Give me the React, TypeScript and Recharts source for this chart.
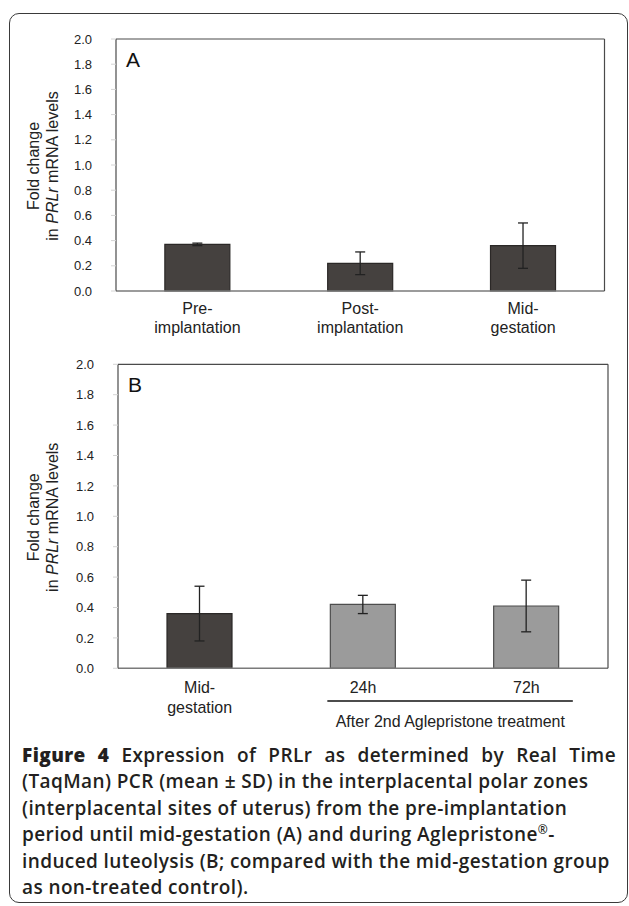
import React from 'react';
import { BarChart, Bar, XAxis, YAxis, ErrorBar, Cell, Label } from 'recharts';

// panel A: pregnancy stages
const categoriesA = ['Pre-\nimplantation', 'Post-\nimplantation', 'Mid-\ngestation'];
const meansA = [0.37, 0.22, 0.36];
const sdA = [0.01, 0.09, 0.18];

// panel B: mid-gestation control vs. after Aglepristone
const categoriesB = ['Mid-\ngestation', '24h', '72h'];
const meansB = [0.36, 0.42, 0.41];
const sdB = [0.18, 0.06, 0.17];
const treatedB = [false, true, true];

const yTicks = [0, 0.2, 0.4, 0.6, 0.8, 1.0, 1.2, 1.4, 1.6, 1.8, 2.0];
const treatmentLabel = 'After 2nd Aglepristone treatment';

const captionLines = [
    '(TaqMan) PCR (mean \u00b1 SD) in the interplacental polar zones',
    '(interplacental sites of uterus) from the pre-implantation',
    'period until mid-gestation (A) and during Aglepristone',
    'induced luteolysis (B; compared with the mid-gestation group',
    'as non-treated control).',
];

const FONT = '"Liberation Sans", Arial, sans-serif';
const DARK = '#45413f';
const LIGHT = '#9b9b9b';

const dataA = categoriesA.map((name, i) => ({ name, mean: meansA[i], sd: sdA[i] }));
const dataB = categoriesB.map((name, i) => ({ name, mean: meansB[i], sd: sdB[i], treated: treatedB[i] }));

const YTitle = (props: any) => {
    const { viewBox } = props;
    const cy = viewBox.y + viewBox.height / 2 + 1;
    const common = { textAnchor: 'middle' as const, dominantBaseline: 'central' as const, fontSize: 16, fontFamily: FONT, fill: '#222' };
    return (
        <g>
            <text transform={`translate(33, ${cy}) rotate(-90)`} {...common}>
                Fold change
            </text>
            <text transform={`translate(52, ${cy}) rotate(-90)`} {...common}>
                in <tspan fontStyle="italic">PRLr</tspan> mRNA levels
            </text>
        </g>
    );
};

const PanelLetter = (props: any) => {
    const { viewBox, letter } = props;
    return (
        <text x={viewBox.x + 10} y={viewBox.y + viewBox.height + 27.5} fontSize={21} fontFamily={FONT} fill="#111">
            {letter}
        </text>
    );
};

const CategoryTick = (props: any) => {
    const { x, y, payload, index, first, gap, bracket } = props;
    const lines = String(payload.value).split('\n');
    return (
        <g>
            {lines.map((line, i) => (
                <text key={i} x={x} y={y + first + i * gap} textAnchor="middle" fontSize={16} fontFamily={FONT} fill="#222">
                    {line}
                </text>
            ))}
            {bracket && index === categoriesB.length - 1 && (
                <g>
                    <line x1={x - 199} y1={y + 32.7} x2={x + 46.5} y2={y + 32.7} stroke="#111" strokeWidth={1.3} />
                    <text x={x - 76} y={y + 59} textAnchor="middle" fontSize={16} fontFamily={FONT} fill="#222">
                        {treatmentLabel}
                    </text>
                </g>
            )}
        </g>
    );
};

interface PanelProps {
    data: Array<any>;
    letter: string;
    width: number;
    height: number;
    margin: { top: number; right: number; left: number; bottom: number };
    yWidth: number;
    xHeight: number;
    first: number;
    gap: number;
    bracket?: boolean;
}

const Panel: React.FC<PanelProps> = ({ data, letter, width, height, margin, yWidth, xHeight, first, gap, bracket }) => (
    <BarChart width={width} height={height} data={data} margin={margin} barCategoryGap="30%">
        <XAxis
            dataKey="name"
            height={xHeight}
            tickLine={false}
            tickSize={0}
            tickMargin={0}
            axisLine={{ stroke: '#7a7a7a', strokeWidth: 1.5 }}
            interval={0}
            tick={(p: any) => <CategoryTick {...p} first={first} gap={gap} bracket={bracket} />}
        />
        <XAxis xAxisId="top" dataKey="name" orientation="top" height={1} tick={false} tickLine={false} axisLine={{ stroke: '#4a4a4a', strokeWidth: 1.2 }}>
            <Label content={<PanelLetter letter={letter} />} />
        </XAxis>
        <YAxis
            domain={[0, 2]}
            ticks={yTicks}
            width={yWidth}
            tickSize={5}
            tickMargin={19}
            tickLine={{ stroke: '#d4d4d4' }}
            axisLine={{ stroke: '#4a4a4a', strokeWidth: 1.2 }}
            tickFormatter={(v: number) => v.toFixed(1)}
            tick={{ fontSize: 13, fontFamily: FONT, fill: '#222' }}
        >
            <Label content={<YTitle />} />
        </YAxis>
        <YAxis yAxisId="right" orientation="right" domain={[0, 2]} width={1} tick={false} tickLine={false} axisLine={{ stroke: '#4a4a4a', strokeWidth: 1.2 }} />
        <Bar dataKey="mean" isAnimationActive={false}>
            {data.map((d, i) => (
                <Cell key={`cell-${i}`} fill={d.treated ? LIGHT : DARK} stroke={d.treated ? '#4d4d4d' : '#2b2827'} strokeWidth={1.2} />
            ))}
            <ErrorBar dataKey="sd" width={5} stroke="#222" strokeWidth={1.3} direction="y" isAnimationActive={false} />
        </Bar>
    </BarChart>
);

export default function App() {
    return (
        <div style={{ position: 'absolute', left: 0, top: 0, width: 629, height: 906, background: '#fff', overflow: 'hidden' }}>
            <div
                style={{
                    position: 'absolute',
                    left: 9,
                    top: 13,
                    width: 619,
                    height: 890,
                    boxSizing: 'border-box',
                    border: '1.5px solid #3a3a3a',
                    borderRadius: 10,
                }}
            />
            <div style={{ position: 'absolute', left: 0, top: 0 }}>
                <Panel
                    data={dataA}
                    letter="A"
                    width={629}
                    height={346}
                    margin={{ top: 38, right: 23.5, left: 0, bottom: 0 }}
                    yWidth={116}
                    xHeight={55}
                    first={22.5}
                    gap={19.5}
                />
            </div>
            <div style={{ position: 'absolute', left: 0, top: 330 }}>
                <Panel
                    data={dataB}
                    letter="B"
                    width={629}
                    height={408.3}
                    margin={{ top: 33.3, right: 20, left: 0, bottom: 0 }}
                    yWidth={118}
                    xHeight={70}
                    first={25}
                    gap={19.5}
                    bracket
                />
            </div>
            <div
                style={{
                    position: 'absolute',
                    left: 22,
                    top: 742,
                    width: 594,
                    fontFamily: '"Open Sans", "Noto Sans", sans-serif',
                    fontWeight: 600,
                    fontSize: 19,
                    letterSpacing: 0.4,
                    lineHeight: '26.4px',
                    color: '#231f20',
                }}
            >
                <div style={{ textAlign: 'justify', textAlignLast: 'justify', whiteSpace: 'nowrap' }}>
                    <span style={{ fontWeight: 800 }}>Figure 4</span> Expression of PRLr as determined by Real Time
                </div>
                {captionLines.map((line, i) => (
                    <div key={i} style={{ whiteSpace: 'nowrap' }}>
                        {line}
                        {i === 2 && (
                            <>
                                <sup style={{ fontSize: 12, lineHeight: 0 }}>{'\u00ae'}</sup>-
                            </>
                        )}
                    </div>
                ))}
            </div>
        </div>
    );
}
